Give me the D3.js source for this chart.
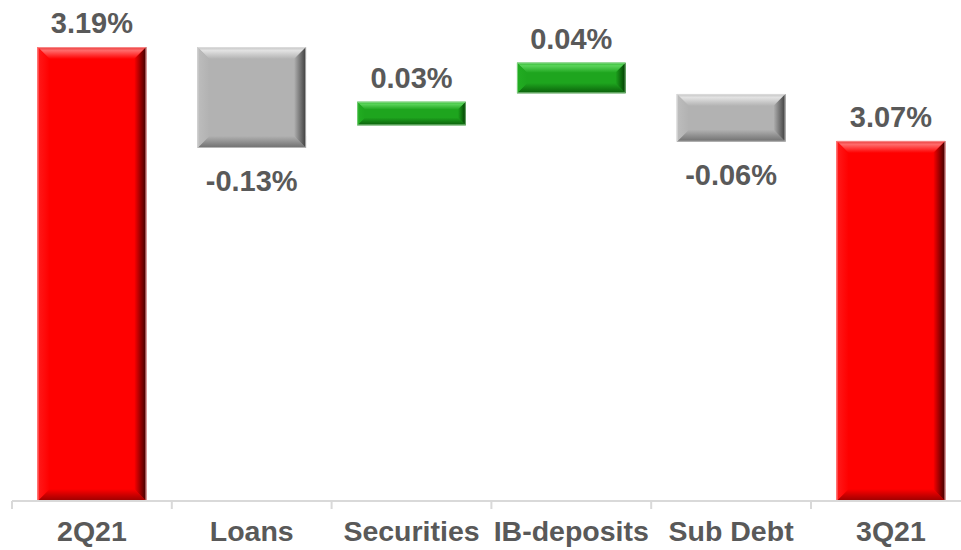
<!DOCTYPE html>
<html>
<head>
<meta charset="utf-8">
<script src="https://cdn.jsdelivr.net/npm/d3@7"></script>
<style>
  body { margin: 0; background: #fff; }
  svg { display: block; }
</style>
</head>
<body>
<svg id="chart"></svg>
<script>
const categories = ['2Q21', 'Loans', 'Securities', 'IB-deposits', 'Sub Debt', '3Q21'];
const changes = [3.19, -0.13, 0.03, 0.04, -0.06, 3.07]; // values shown in the labels
const barTop = [3.19, 3.19, 3.12, 3.17, 3.13, 3.07];
const barBottom = [null, 3.061, 3.09, 3.131, 3.069, null]; // null = sits on the axis
const kinds = ['total', 'down', 'up', 'up', 'down', 'total'];

const width = 961;
const height = 550;
const axisY = 501;

const palette = {
    total: { face: '#ff0000', light: '#ff6a6a', edge: '#e84040', side: '#ff1a1a', dark: '#3a0000', low: '#9a0000', line: '#ffb0b0' },
    down:  { face: '#b2b2b2', light: '#e2e2e2', edge: '#c4c4c4', side: '#bdbdbd', dark: '#3c3c3c', low: '#6e6e6e', line: '#e6e6e6' },
    up:    { face: '#1ea51e', light: '#5ad45a', edge: '#2fb82f', side: '#22ad22', dark: '#003a00', low: '#0a5e0a', line: '#b6e6b6' }
};

const svg = d3.select('#chart')
    .attr('width', width)
    .attr('height', height);

const x = d3.scaleBand()
    .domain(categories)
    .range([12, 970.8])
    .paddingInner(0.32)
    .paddingOuter(0.16);

const y = d3.scaleLinear()
    .domain([2.61, 3.19])
    .range([axisY, 47]);

// gradients for the bevelled sides
const defs = svg.append('defs');
Object.keys(palette).forEach(k => {
    const p = palette[k];
    const grads = [
        { id: 'top', x2: 0, y2: 1, stops: [[0, p.edge], [0.3, p.light], [1, p.face]] },
        { id: 'bottom', x2: 0, y2: 1, stops: [[0, p.face], [1, p.low]] },
        { id: 'left', x2: 1, y2: 0, stops: [[0, p.side], [1, p.face]] },
        { id: 'right', x2: 1, y2: 0, stops: [[0, p.face], [1, p.dark]] }
    ];
    grads.forEach(g => {
        const lg = defs.append('linearGradient')
            .attr('id', `${k}-${g.id}`)
            .attr('x1', 0).attr('y1', 0)
            .attr('x2', g.x2).attr('y2', g.y2);
        g.stops.forEach(s => lg.append('stop').attr('offset', s[0]).attr('stop-color', s[1]));
    });
});

const bars = categories.map((c, i) => {
    const x0 = x(c);
    const x1 = x0 + x.bandwidth();
    const y0 = y(barTop[i]);
    const y1 = barBottom[i] == null ? axisY : y(barBottom[i]);
    return { c, i, x0, x1, y0, y1, kind: kinds[i], value: changes[i] };
});

const barG = svg.append('g').selectAll('g').data(bars).enter().append('g');

barG.each(function(d) {
    const g = d3.select(this);
    const b = Math.min(12, (d.y1 - d.y0) / 3);
    const { x0, x1, y0, y1 } = d;
    const pts = {
        top: [[x0, y0], [x1, y0], [x1 - b, y0 + b], [x0 + b, y0 + b]],
        bottom: [[x0, y1], [x1, y1], [x1 - b, y1 - b], [x0 + b, y1 - b]],
        left: [[x0, y0], [x0 + b, y0 + b], [x0 + b, y1 - b], [x0, y1]],
        right: [[x1, y0], [x1 - b, y0 + b], [x1 - b, y1 - b], [x1, y1]]
    };
    g.append('rect')
        .attr('x', x0).attr('y', y0)
        .attr('width', x1 - x0).attr('height', y1 - y0)
        .attr('fill', palette[d.kind].face);
    Object.keys(pts).forEach(side => {
        g.append('polygon')
            .attr('points', pts[side].map(p => p.join(',')).join(' '))
            .attr('fill', `url(#${d.kind}-${side})`);
    });
    g.append('rect')
        .attr('x', x0 + 0.5).attr('y', y0 + 0.5)
        .attr('width', x1 - x0 - 1).attr('height', y1 - y0 - 1)
        .attr('fill', 'none')
        .attr('stroke', palette[d.kind].line)
        .attr('stroke-opacity', 0.6);
});

// value labels
svg.append('g').selectAll('text').data(bars).enter()
    .append('text')
    .text(d => d.value.toFixed(2) + '%')
    .attr('x', d => (d.x0 + d.x1) / 2)
    .attr('y', d => d.value < 0 ? d.y1 + 43 : d.y0 - 14)
    .attr('text-anchor', 'middle')
    .attr('font-family', 'Liberation Sans, Arial, sans-serif')
    .attr('font-weight', 'bold')
    .attr('font-size', '29px')
    .attr('fill', '#595959');

// category axis with ticks between categories
const step = x.step();
const bounds = categories.map(c => x(c) - step * x.paddingInner() / 2);
bounds.push(bounds[bounds.length - 1] + step);

const axis = svg.append('g');
axis.append('line')
    .attr('x1', bounds[0]).attr('x2', width)
    .attr('y1', axisY).attr('y2', axisY)
    .attr('stroke', '#d9d9d9')
    .attr('stroke-width', 2);
axis.selectAll('line.tick').data(bounds).enter()
    .append('line')
    .attr('class', 'tick')
    .attr('x1', d => d).attr('x2', d => d)
    .attr('y1', axisY).attr('y2', axisY + 8)
    .attr('stroke', '#d9d9d9')
    .attr('stroke-width', 2);
axis.selectAll('text').data(categories).enter()
    .append('text')
    .text(d => d)
    .attr('x', d => x(d) + x.bandwidth() / 2)
    .attr('y', 541)
    .attr('text-anchor', 'middle')
    .attr('font-family', 'Liberation Sans, Arial, sans-serif')
    .attr('font-weight', 'bold')
    .attr('font-size', '28.5px')
    .attr('fill', '#595959');
</script>
</body>
</html>
